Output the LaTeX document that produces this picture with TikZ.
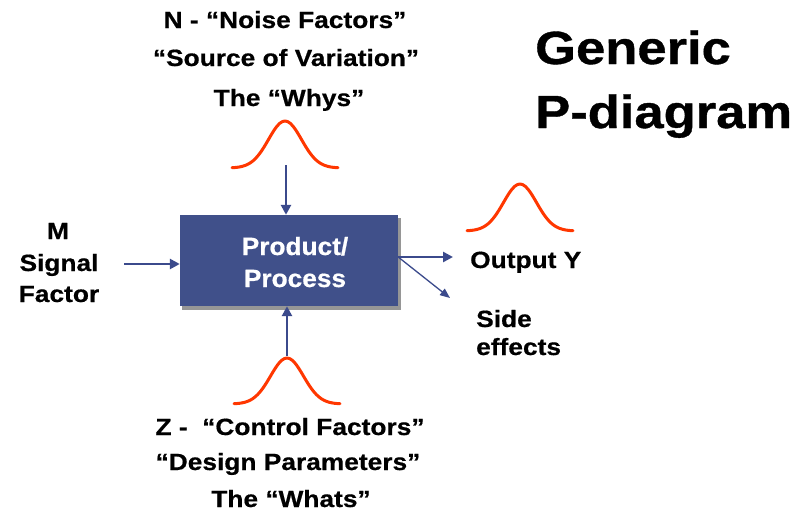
\documentclass[tikz,border=0pt]{standalone}
\usepackage{fontspec}
\setmainfont{Liberation Sans}[FakeStretch=1.12,FakeBold=0.6]
\newfontfamily\boxfont{Liberation Sans}[FakeStretch=1.05,FakeBold=0.6]
\newfontfamily\titlefont{Liberation Sans}[FakeStretch=1.13,FakeBold=0.8]
\usetikzlibrary{arrows.meta}
\definecolor{procblue}{RGB}{64,80,138}
\definecolor{arrowblue}{RGB}{59,74,140}
\definecolor{bellred}{RGB}{255,55,0}
\definecolor{shadowgray}{RGB}{150,150,150}
% bell curve: centre x, base y, height
\newcommand\bellcurve[3]{%
  \draw[bell] plot[smooth,domain=-53:53,samples=41]
    ({#1+\x},{#2-#3*exp(-0.5*(\x/16.5)*(\x/16.5))});}
\begin{document}
\begin{tikzpicture}[x=1pt,y=-1pt,
  lab/.style={inner sep=0pt,anchor=base,font=\fontsize{23.5}{24}\selectfont\bfseries},
  labl/.style={lab,anchor=base west},
  title/.style={inner sep=0pt,anchor=base west,font=\fontsize{46.5}{47}\selectfont\titlefont\bfseries},
  procbox/.style={draw=none,fill=procblue,minimum width=218pt,minimum height=91pt,inner sep=0pt},
  boxtext/.style={inner sep=0pt,anchor=base,text=white,font=\fontsize{25}{25}\selectfont\boxfont\bfseries},
  flow/.style={draw=arrowblue,line width=2.8pt,-{Triangle[length=10pt,width=10pt]}},
  thinflow/.style={draw=arrowblue,line width=1.3pt,-{Triangle[length=10pt,width=8pt]}},
  bell/.style={draw=bellred,line width=3pt,line cap=round,line join=round}]
\useasboundingbox[fill=white] (0,0) rectangle (809,517);

% process block with its drop shadow
\fill[shadowgray] (182,218) rectangle (401,310);
\node[procbox] (box) at (289,260.5) {};
\node[boxtext] (prod) at (295,255) {Product/};
\node[boxtext] (proc) at (295,287) {Process};

% noise factors (top)
\node[lab] (n1) at (285,28) {N - “Noise Factors”};
\node[lab] (n2) at (286,66) {“Source of Variation”};
\node[lab] (n3) at (289,106) {The “Whys”};
\bellcurve{285}{168}{47}
\coordinate (ntail) at (286,165);
\draw[flow] (ntail) -- (ntail |- box.north);

% control factors (bottom)
\bellcurve{287}{404}{46}
\coordinate (ztail) at (287,356);
\draw[flow] (ztail) -- (ztail |- box.south);
\node[lab] (z1) at (290,435) {Z -~~“Control Factors”};
\node[lab] (z2) at (288,470) {“Design Parameters”};
\node[lab] (z3) at (291,507) {The “Whats”};

% signal factor (left)
\node[lab] (m1) at (58,239) {M};
\node[lab] (m2) at (59,271) {Signal};
\node[lab] (m3) at (59,302) {Factor};
\coordinate (mtail) at (124,264);
\draw[flow] (mtail) -- (mtail -| box.west);

% output and side effects (right)
\bellcurve{520}{231}{47}
\node[labl] (out) at (470,268) {Output Y};
\node[labl] (side1) at (476,327) {Side};
\node[labl] (side2) at (476,355) {effects};
\coordinate (outtip) at (453,257);
\coordinate (sidetip) at (450,298);
\draw[flow] (outtip -| box.east) -- (outtip);
\draw[thinflow] (outtip -| box.east) -- (sidetip);

% heading
\node[title] (t1) at (535,64) {Generic};
\node[title] (t2) at (535,128) {P-diagram};
\end{tikzpicture}
\end{document}
